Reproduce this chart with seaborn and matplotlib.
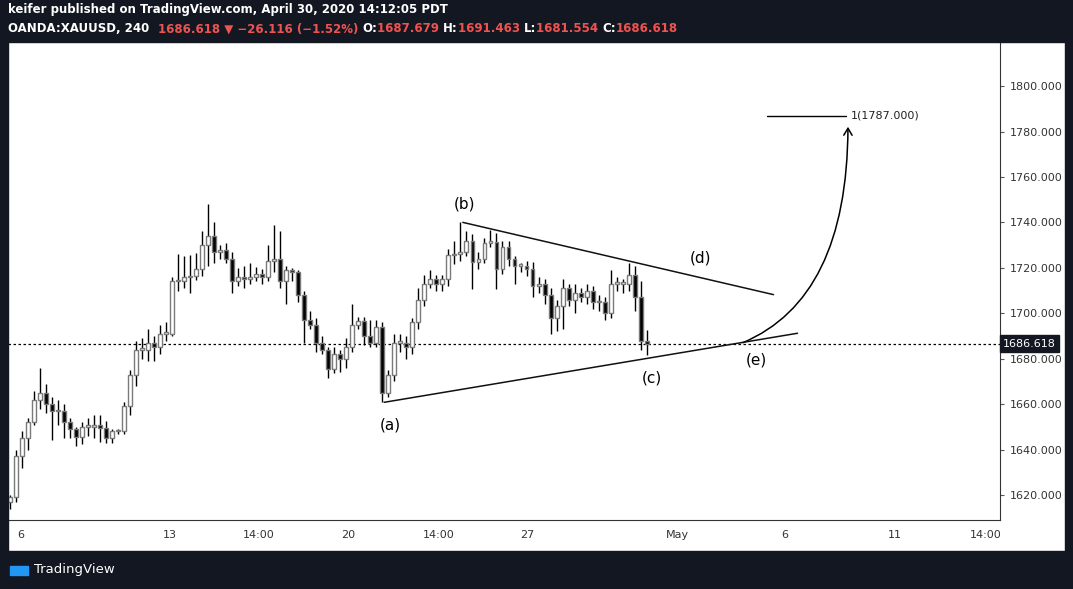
import numpy as np
import pandas as pd
import matplotlib
matplotlib.use("Agg")
import matplotlib.pyplot as plt
import seaborn as sns
from matplotlib.patches import FancyArrowPatch, Rectangle

# 4h candle closes (OANDA:XAUUSD)
closes = [1619, 1637, 1645, 1652, 1662, 1665, 1660, 1657, 1657, 1652,
          1649, 1645.5, 1650, 1650, 1651, 1649.5, 1645, 1648, 1648, 1659,
          1673, 1684, 1684, 1687, 1685, 1691, 1691, 1714, 1714, 1716,
          1716.5, 1719.5, 1730, 1734, 1727, 1728, 1724, 1714, 1716, 1715,
          1716, 1717.5, 1716, 1723, 1724, 1714, 1719, 1718, 1708, 1697,
          1695, 1687, 1684, 1675.5, 1682, 1680, 1685, 1695, 1696.5, 1690,
          1687, 1694, 1665, 1673, 1687, 1687, 1685, 1696, 1706, 1713,
          1715, 1713, 1715, 1725.5, 1726, 1727, 1732, 1722.5, 1724, 1731,
          1731.5, 1719.5, 1729, 1724, 1721, 1721, 1719.5, 1712, 1713, 1708,
          1698, 1703, 1711, 1706, 1709, 1707, 1710, 1705, 1705, 1700,
          1713, 1713, 1713, 1717, 1707, 1687.679, 1686.618]
first_open = 1617
# extra wick above body top / below body bottom
wick_up = [1, 3, 3, 2, 4, 11, 4, 3, 5, 3,
           2, 1, 2, 4, 4, 4, 3, 1, 1, 2,
           2, 4, 5, 6, 3, 4, 5, 2, 12, 9,
           9, 7, 6, 14, 6, 2, 3, 3, 4, 5,
           6, 3, 2, 7, 15, 12, 2, 1, 1, 2,
           4, 3, 3, 1, 3, 2, 4, 9, 2, 2,
           7, 3, 2, 2, 4, 4, 3, 2, 5, 4,
           4, 2, 2, 3, 6, 13, 4, 3, 3, 2,
           5, 4, 3, 3, 1, 1, 2, 3, 3, 2,
           3, 3, 4, 2, 4, 2, 3, 2, 3, 2,
           6, 3, 2, 5, 4, 7, 5]
wick_dn = [3, 2, 5, 5, 1, 4, 4, 13, 6, 7,
           4, 4, 3, 4, 5, 6, 2, 2, 1, 1,
           4, 5, 4, 5, 6, 3, 3, 1, 4, 3,
           7, 2, 3, 9, 5, 3, 2, 5, 2, 4,
           2, 2, 3, 2, 5, 3, 10, 4, 3, 10,
           2, 4, 2, 4, 2, 6, 4, 2, 2, 4,
           2, 2, 4, 2, 3, 4, 5, 3, 3, 3,
           2, 3, 3, 3, 4, 3, 2, 12, 3, 2,
           2, 9, 2, 3, 8, 3, 3, 5, 3, 4,
           7, 6, 10, 3, 6, 2, 3, 3, 4, 3,
           2, 3, 4, 3, 6, 4, 5]

yticks = [1620, 1640, 1660, 1680, 1700, 1720, 1740, 1760, 1780, 1800]
xtick_pos = [1.8, 26.6, 41.4, 56.3, 71.3, 86.2, 111.1, 129, 147.3, 162.5]
xtick_labels = ["6", "13", "14:00", "20", "14:00", "27", "May", "6", "11", "14:00"]

# wave annotations (bar index, price)
wave_labels = ["(a)", "(b)", "(c)", "(d)", "(e)"]
wave_x = [63.3, 75.6, 106.8, 115.0, 124.3]
wave_y = [1650.8, 1748.0, 1671.5, 1724.3, 1679.4]
upper_line = ([75.4, 127.1], [1740.0, 1708.2])
lower_line = ([62.3, 131.1], [1660.8, 1691.2])
target = 1787.0
last_close = closes[-1]

opens = [first_open] + closes[:-1]
df = pd.DataFrame({"i": np.arange(len(closes)), "open": opens, "close": closes})
df["top"] = df[["open", "close"]].max(axis=1)
df["bot"] = df[["open", "close"]].min(axis=1)
df["high"] = df["top"] + np.array(wick_up)
df["low"] = df["bot"] - np.array(wick_dn)

sns.set_style("white")
W, H = 1073, 589
fig = plt.figure(figsize=(W / 100, H / 100), dpi=100, facecolor="white")
dark = "#131722"
fig.patches.append(Rectangle((0, 1 - 42 / H), 1, 42 / H, transform=fig.transFigure, color=dark, zorder=0))
fig.patches.append(Rectangle((0, 0), 1, 38 / H, transform=fig.transFigure, color=dark, zorder=0))
fig.patches.append(Rectangle((0, 0), 8 / W, 1, transform=fig.transFigure, color=dark, zorder=0))
fig.patches.append(Rectangle((1 - 8 / W, 0), 8 / W, 1, transform=fig.transFigure, color=dark, zorder=0))

ax = fig.add_axes([8 / W, (H - 520) / H, 992 / W, 478 / H])
ax.set_xlim(-0.3, 164.8)
ax.set_ylim(1609.0, 1819.4)

ax.vlines(df["i"], df["low"], df["high"], color="black", lw=1, zorder=2)
up = df[df["close"] >= df["open"]]
dn = df[df["close"] < df["open"]]
ax.bar(up["i"], (up["top"] - up["bot"]).clip(lower=0.6), bottom=up["bot"], width=0.65,
       color="white", edgecolor="#7a7a7a", lw=1, zorder=3)
ax.bar(dn["i"], (dn["top"] - dn["bot"]).clip(lower=0.6), bottom=dn["bot"], width=0.65,
       color="black", edgecolor="#7a7a7a", lw=1, zorder=3)

ax.axhline(last_close, color="black", ls=(0, (2, 2)), lw=0.9, zorder=1)
sns.lineplot(x=upper_line[0], y=upper_line[1], ax=ax, color="#111111", lw=1.1)
sns.lineplot(x=lower_line[0], y=lower_line[1], ax=ax, color="#111111", lw=1.1)
ax.plot([126.1, 139.1], [target, target], color="black", lw=1)
ax.text(139.9, target, "1(1787.000)", fontsize=8, va="center", color="#222222")
arrow = FancyArrowPatch((121.6, 1686.6), (139.5, 1783.3),
                        connectionstyle="angle3,angleA=22,angleB=90",
                        arrowstyle="->,head_length=5,head_width=3", color="black", lw=1.1)
ax.add_patch(arrow)
for t, x, y in zip(wave_labels, wave_x, wave_y):
    ax.text(x, y, t, fontsize=11, ha="center", va="center", color="black")

ax.set_yticks(yticks)
ax.yaxis.tick_right()
ax.set_yticklabels([f"{v:.3f}" for v in yticks], fontsize=8, color="#333333")
ax.set_xticks(xtick_pos)
ax.set_xticklabels(xtick_labels, fontsize=8, color="#333333")
ax.tick_params(axis="both", length=3, color="#555555", pad=4)
for s in ["top", "left"]:
    ax.spines[s].set_visible(False)
ax.spines["right"].set_color("#333333")
ax.spines["bottom"].set_color("#333333")
ax.text(1.003, last_close, "1686.618", transform=ax.get_yaxis_transform(), fontsize=8,
        color="white", va="center", ha="left",
        bbox=dict(boxstyle="square,pad=0.3", fc=dark, ec=dark))

fig.text(8 / W, 1 - 10 / H, "keifer published on TradingView.com, April 30, 2020 14:12:05 PDT",
         color="white", fontsize=8.5, va="center", weight="bold")
parts = [("OANDA:XAUUSD, 240  ", "white"), ("1686.618 ▼ −26.116 (−1.52%) ", "#ef5350"),
         ("O:", "white"), ("1687.679 ", "#ef5350"), ("H:", "white"), ("1691.463 ", "#ef5350"),
         ("L:", "white"), ("1681.554 ", "#ef5350"), ("C:", "white"), ("1686.618", "#ef5350")]
fig.canvas.draw()
xpos = 8
r = fig.canvas.get_renderer()
for txt, col in parts:
    t = fig.text(xpos / W, 1 - 29 / H, txt, color=col, fontsize=8.5, va="center", weight="bold")
    xpos += t.get_window_extent(renderer=r).width
fig.text(34 / W, 19 / H, "TradingView", color="white", fontsize=9.5, va="center")
fig.patches.append(Rectangle((10 / W, 14 / H), 18 / W, 9 / H, transform=fig.transFigure,
                             color="#2196f3", zorder=1))

fig.savefig("out.png", dpi=100, facecolor="white")
